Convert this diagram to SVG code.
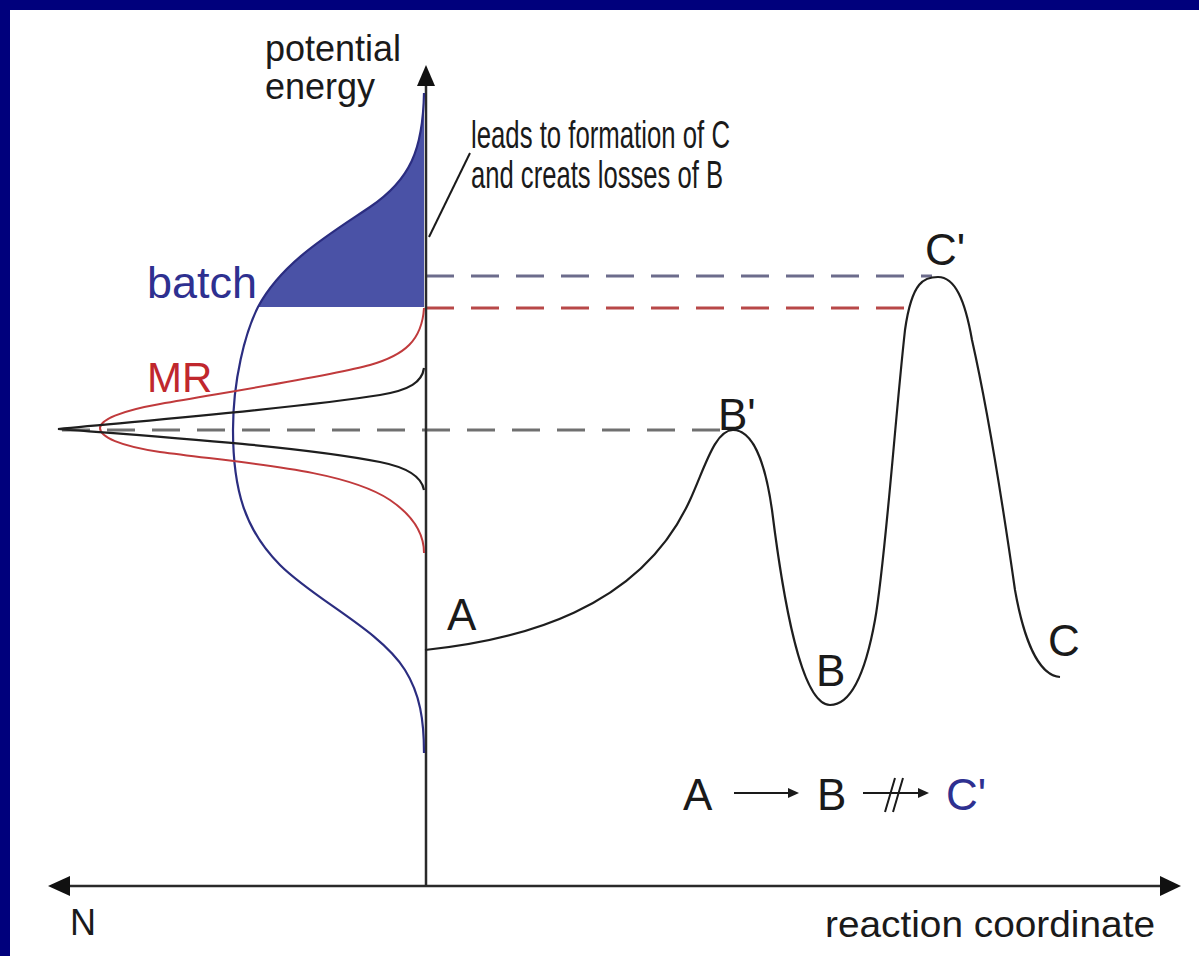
<svg xmlns="http://www.w3.org/2000/svg" width="1199" height="956" viewBox="0 0 1199 956">
<defs>
<style>
.t{font-family:"Liberation Sans",Arial,Helvetica,sans-serif;fill:#1a1a1a}
.lbl{font-size:44px}
.ax{stroke:#2a2a2a;stroke-width:2.5;fill:none}
.cv{fill:none;stroke:#1e1e1e;stroke-width:2.2}
.dash{fill:none;stroke-width:3;stroke-dasharray:28 17}
</style>
</defs>
<rect x="0" y="0" width="1199" height="956" fill="#00007c"/>
<rect x="10" y="10" width="1189" height="946" fill="#ffffff"/>

<g id="connectors">
  <line class="dash" x1="426" y1="276" x2="932" y2="276" stroke="#6c6c8c"/>
  <line class="dash" x1="426" y1="308" x2="908" y2="308" stroke="#b84848"/>
  <line class="dash" x1="62" y1="430" x2="735" y2="430" stroke="#707070"/>
  <line class="ax" x1="426" y1="886" x2="426" y2="82"/>
  <polygon points="426,65 417,86 435,86" fill="#111"/>
  <line class="ax" x1="66" y1="886" x2="1164" y2="886"/>
  <polygon points="48,886 70,876 70,896" fill="#111"/>
  <polygon points="1181,886 1160,876 1160,896" fill="#111"/>
  <line x1="470" y1="153" x2="429" y2="237" stroke="#1a1a1a" stroke-width="2"/>
  <g id="eq-arrows" stroke="#1a1a1a" stroke-width="2">
    <line x1="734" y1="793" x2="790" y2="793"/>
    <polygon points="799,793 788,788 788,798" fill="#1a1a1a" stroke="none"/>
    <line x1="863" y1="793" x2="920" y2="793"/>
    <polygon points="929,793 918,788 918,798" fill="#1a1a1a" stroke="none"/>
    <line x1="885" y1="812" x2="895" y2="778"/>
    <line x1="893" y1="812" x2="903" y2="778"/>
  </g>
</g>

<g id="batch-distribution">
  <path d="M424,93 C423,150 410,180 370,207 C330,234 282,262 258,307 L424,307 Z" fill="#4a52a6"/>
  <path d="M424,93 C423,150 410,180 370,207 C330,234 282,262 258,307 C245,333 233,380 233,430 C233,490 245,530 280,565 C315,600 380,630 405,670 C420,694 424,720 424,753" fill="none" stroke="#2b2d80" stroke-width="2.2"/>
  <text class="t" x="147" y="298" font-size="45" style="fill:#2e3090">batch</text>
</g>

<g id="mr-distribution">
  <path d="M424,308 C422,340 405,355 370,365 C335,375 240,390 160,404 C120,411 100,420 100,428 C100,437 120,446 160,452 C250,464 345,470 390,500 C415,517 424,535 424,553" fill="none" stroke="#c03a3c" stroke-width="2"/>
  <text class="t" x="147" y="392" font-size="42" style="fill:#c0272d">MR</text>
</g>

<g id="narrow-distribution">
  <path d="M424,368 C422,382 410,390 380,395 C300,408 150,420 58,429 C150,436 300,446 380,462 C410,468 422,478 424,490" class="cv"/>
</g>

<g id="reaction-profile">
  <path d="M425,650 C520,640 640,610 690,500 C705,467 715,430 733,430 C752,430 765,460 772,510 C782,590 800,705 830,705 C852,705 866,670 875,620 C885,565 895,420 905,330 C912,280 925,277 938,277 C955,277 965,300 972,340 C990,420 1005,520 1015,590 C1023,635 1037,675 1060,677" class="cv"/>
</g>

<g id="axis-labels">
  <text class="t" x="265" y="61" font-size="36">potential</text>
  <text class="t" x="265" y="99" font-size="36">energy</text>
  <text class="t" x="70" y="935" font-size="36">N</text>
  <text class="t" x="825" y="937" font-size="37" textLength="330" lengthAdjust="spacingAndGlyphs">reaction coordinate</text>
</g>

<g id="annotation">
  <text class="t" x="471" y="148" font-size="39" textLength="259" lengthAdjust="spacingAndGlyphs">leads to formation of C</text>
  <text class="t" x="471" y="188" font-size="39" textLength="252" lengthAdjust="spacingAndGlyphs">and creats losses of B</text>
</g>

<g id="state-labels">
  <text class="t lbl" x="447" y="630">A</text>
  <text class="t lbl" x="718" y="430">B'</text>
  <text class="t lbl" x="816" y="686">B</text>
  <text class="t lbl" x="1048" y="656">C</text>
  <text class="t lbl" x="925" y="265">C'</text>
</g>

<g id="equation">
  <text class="t lbl" x="683" y="810">A</text>
  <text class="t lbl" x="817" y="810">B</text>
  <text class="t lbl" x="946" y="810" style="fill:#2e3090">C'</text>
</g>
</svg>
